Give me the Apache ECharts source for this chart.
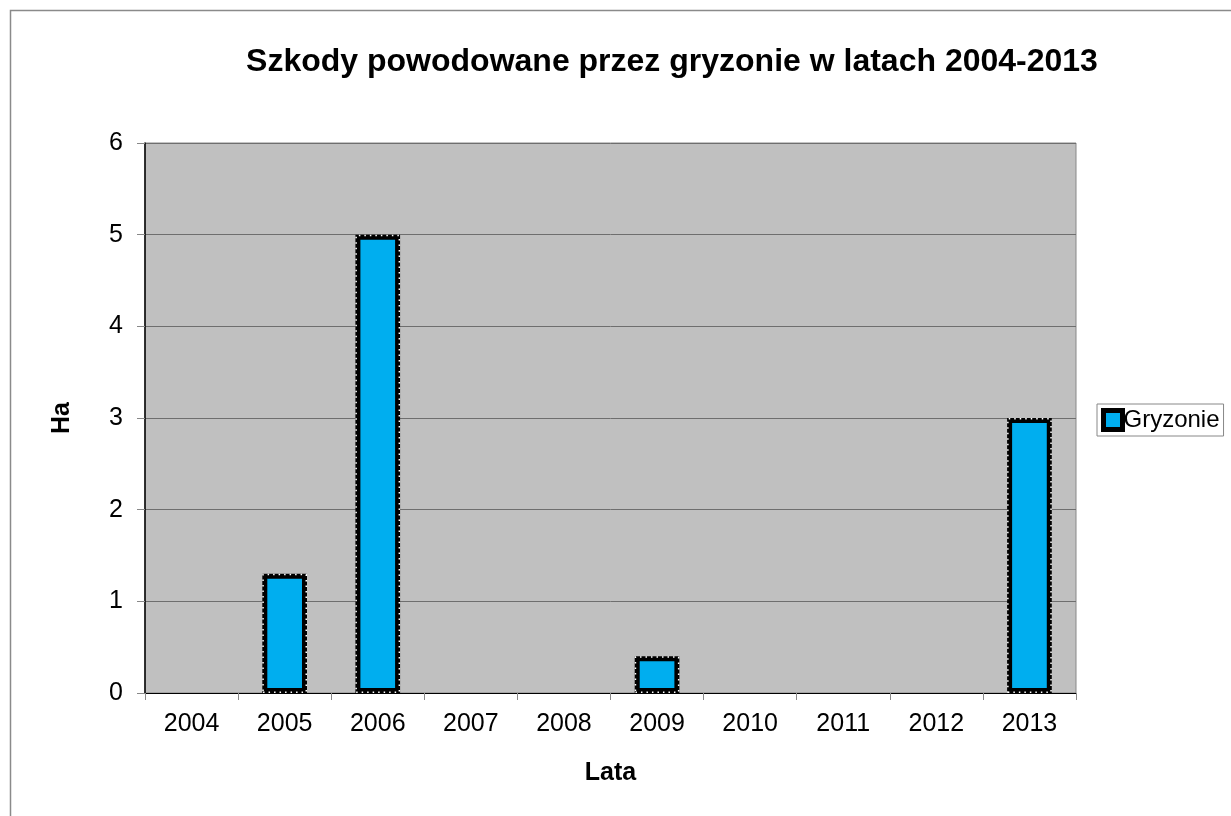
<!DOCTYPE html>
<html>
<head>
<meta charset="utf-8">
<script src="https://cdn.jsdelivr.net/npm/echarts@6/dist/echarts.min.js"></script>
<style>
  html, body { margin: 0; padding: 0; background: #fff; }
  #chart { width: 1231px; height: 816px; }
</style>
</head>
<body>
<div id="chart"></div>
<script>
const years = ['2004', '2005', '2006', '2007', '2008', '2009', '2010', '2011', '2012', '2013']
const gryzonie = [0, 1.3, 5, 0, 0, 0.4, 0, 0, 0, 3]
const yTicks = [0, 1, 2, 3, 4, 5, 6]

const chart = echarts.init(document.getElementById('chart'))
const font = 'Liberation Sans, Arial, sans-serif'

// bars with zero value are not drawn in the original
const barData = gryzonie.map(v => (v === 0 ? '-' : v))

chart.setOption({
  animation: false,
  graphic: [{
    type: 'rect',
    shape: { x: 10.5, y: 10.5, width: 1400, height: 1000 },
    style: { fill: 'none', stroke: '#8a8a8a', lineWidth: 1.5 },
    silent: true
  }],
  title: {
    text: 'Szkody powodowane przez gryzonie w latach 2004-2013',
    left: 667,
    top: 41,
    textAlign: 'center',
    textStyle: { fontFamily: font, fontSize: 32, fontWeight: 'bold', color: '#000' }
  },
  legend: {
    data: [{ name: 'Gryzonie', icon: 'rect' }],
    left: 1097,
    top: 404,
    itemWidth: 19,
    itemHeight: 19,
    itemGap: 0,
    padding: [4, 4, 4, 4],
    backgroundColor: '#fff',
    borderColor: '#888',
    borderWidth: 1,
    borderRadius: 0,
    itemStyle: { color: '#00aeef', borderColor: '#000', borderWidth: 5 },
    textStyle: { fontFamily: font, fontSize: 24, color: '#000', padding: [0, 0, 0, -4] }
  },
  grid: { left: 145, right: 155, top: 143, bottom: 123, show: true, backgroundColor: '#c0c0c0', borderColor: '#888', borderWidth: 1 },
  xAxis: {
    type: 'category',
    data: years,
    name: 'Lata',
    nameLocation: 'middle',
    nameGap: 68,
    nameTextStyle: { fontFamily: font, fontSize: 25, fontWeight: 'bold', color: '#000' },
    axisLine: { lineStyle: { color: '#000', width: 1 } },
    axisTick: { show: true, length: 7, lineStyle: { color: '#888' } },
    axisLabel: { fontFamily: font, fontSize: 25, color: '#000', margin: 19 }
  },
  yAxis: {
    type: 'value',
    min: yTicks[0],
    max: yTicks[yTicks.length - 1],
    interval: 1,
    name: 'Ha',
    nameLocation: 'middle',
    nameGap: 70,
    nameRotate: 90,
    nameTextStyle: { fontFamily: font, fontSize: 25, fontWeight: 'bold', color: '#000' },
    axisLine: { show: true, lineStyle: { color: '#000', width: 1.5 } },
    axisTick: { show: true, length: 8, lineStyle: { color: '#888' } },
    axisLabel: { fontFamily: font, fontSize: 25, color: '#000', margin: 22 },
    splitLine: { lineStyle: { color: '#6e6e6e', width: 1 } }
  },
  series: [{
    name: 'Gryzonie',
    type: 'bar',
    data: barData,
    barWidth: '48%',
    itemStyle: { color: '#00aeef', borderColor: '#000', borderWidth: 5 }
  }, {
    name: 'dots',
    type: 'bar',
    data: barData,
    barWidth: '48%',
    barGap: '-100%',
    silent: true,
    itemStyle: { color: 'transparent', borderColor: '#fff', borderWidth: 1.5, borderType: [1.5, 4] }
  }]
})
</script>
</body>
</html>
